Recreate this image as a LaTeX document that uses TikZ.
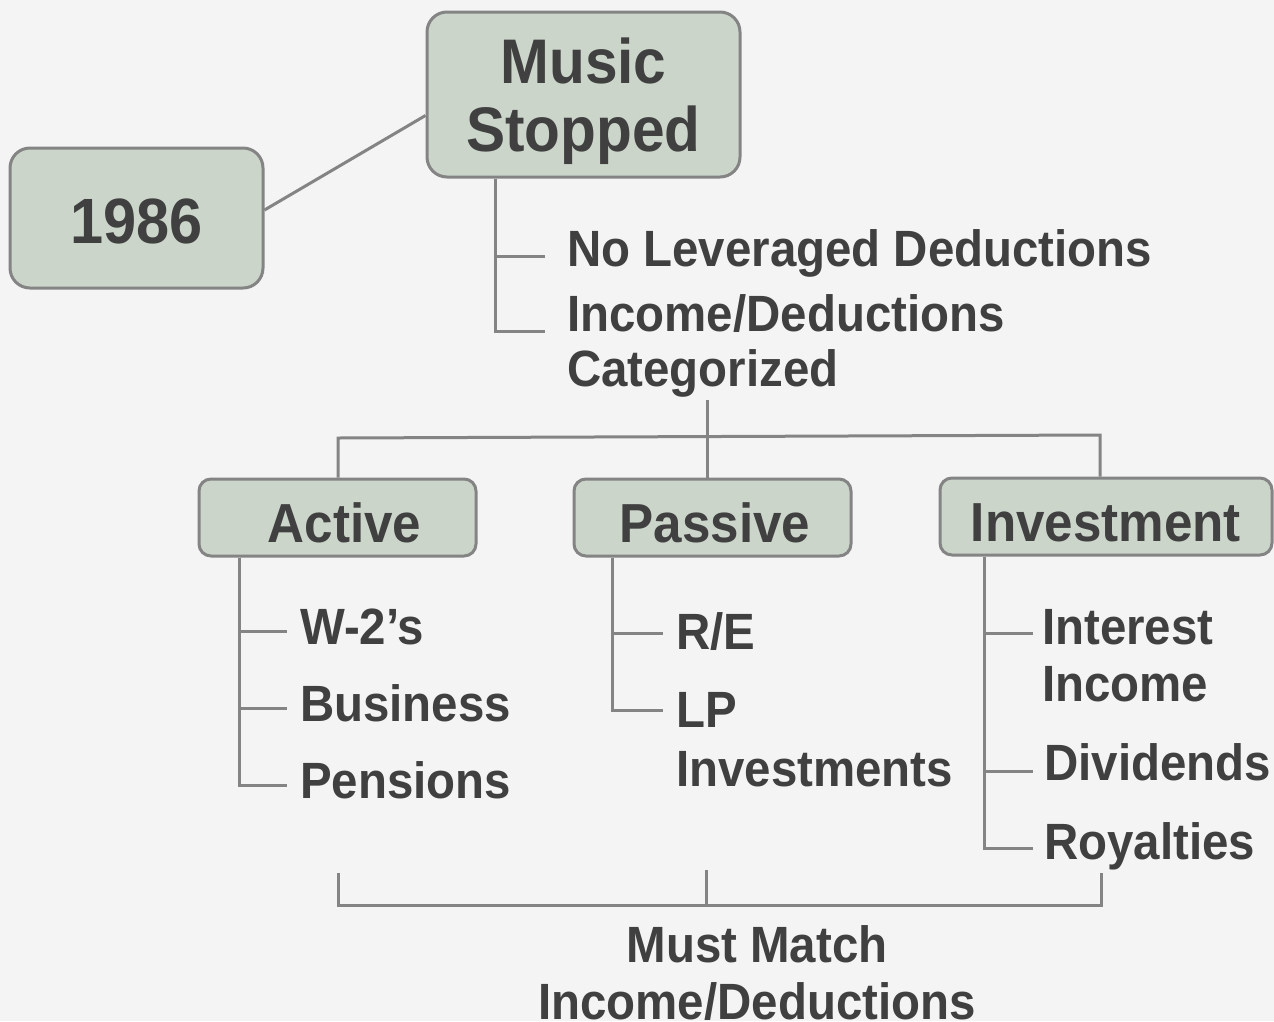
\documentclass[tikz,border=0pt]{standalone}
\usepackage{fontspec}
\newfontfamily\lab[FakeStretch=0.93]{Liberation Sans}
\definecolor{bg}{HTML}{F4F4F4}
\definecolor{boxfill}{HTML}{CBD5CA}
\definecolor{edge}{HTML}{848484}
\definecolor{txt}{HTML}{404040}
\tikzset{
  box/.style={draw=edge, fill=boxfill, line width=3pt, inner sep=0pt, text=txt, font=\lab\bfseries},
  bigbox/.style={box, rounded corners=20pt},
  smallbox/.style={box, rounded corners=12pt, minimum height=77pt, text height=49pt, text depth=0pt,
    font=\lab\bfseries\fontsize{55}{60}\selectfont},
  item/.style={anchor=base west, inner sep=0pt, text=txt, font=\lab\bfseries\fontsize{51}{56}\selectfont, align=left},
  conn/.style={draw=edge, line width=3pt},
}
\begin{document}
\begin{tikzpicture}[x=1pt,y=-1pt]
\fill[bg] (0,0) rectangle (1274,1021);
\useasboundingbox (0,0) rectangle (1274,1021);

% main boxes
\node[bigbox, minimum width=253pt, minimum height=140pt, text height=50pt, text depth=0pt, font=\lab\bfseries\fontsize{64}{68}\selectfont] (y1986) at (136.5,218) {1986};
\node[bigbox, minimum width=313pt, minimum height=165pt, align=center, text depth=0pt, font=\lab\bfseries\fontsize{63}{68}\selectfont] (music) at (583.5,94.5) {Music\\Stopped};

\draw[conn] ([yshift=8pt]y1986.east) -- ([yshift=-21pt]music.west);

% first list
\node[item] (nolev) at (567,266) {No Leveraged Deductions};
\node[item, font=\lab\bfseries\fontsize{51}{55}\selectfont] (incded) at (567,386) {Income/Deductions\\Categorized};
\coordinate (mroot) at ([xshift=70pt]music.south west);
\coordinate (mb1) at (545,256);
\coordinate (mb2) at (545,331);
\draw[conn] (mroot) |- (mb1);
\draw[conn] (mroot) |- (mb2);

% category boxes
\node[smallbox, minimum width=277pt] (active) at (337.5,517.5) {\hspace*{14pt}Active};
\node[smallbox, minimum width=277pt] (passive) at (712.5,517.5) {\hspace*{5pt}Passive};
\node[smallbox, minimum width=332pt] (invest) at (1106,516.5) {Investment};

% top distribution bar
\coordinate (catb) at (707,400);
\coordinate (barl) at (338,438);
\coordinate (barr) at (1100,435);
\draw[conn] (barl |- active.north) -- (barl) -- (barr) -- (barr |- invest.north);
\draw[conn] (catb) -- (catb |- passive.north);

% Active items
\node[item] (w2) at (300,644) {W-2’s};
\node[item] (bus) at (300,721) {Business};
\node[item] (pen) at (300,798) {Pensions};
\coordinate (aroot) at ([xshift=42pt]active.south west);
\coordinate (ab1) at (287,631);
\coordinate (ab2) at (287,708);
\coordinate (ab3) at (287,785);
\draw[conn] (aroot) |- (ab3);
\draw[conn] (aroot |- ab1) -- (ab1);
\draw[conn] (aroot |- ab2) -- (ab2);

% Passive items
\node[item] (re) at (676,649) {R/E};
\node[item, font=\lab\bfseries\fontsize{51}{59}\selectfont] (lp) at (676,786) {LP\\Investments};
\coordinate (proot) at ([xshift=40pt]passive.south west);
\coordinate (pb1) at (663,633);
\coordinate (pb2) at (663,710);
\draw[conn] (proot) |- (pb2);
\draw[conn] (proot |- pb1) -- (pb1);

% Investment items
\node[item, font=\lab\bfseries\fontsize{51}{57}\selectfont] (int) at (1042,701) {Interest\\Income};
\node[item] (div) at (1044,780) {Dividends};
\node[item] (roy) at (1044,859) {Royalties};
\coordinate (iroot) at ([xshift=46pt]invest.south west);
\coordinate (ib1) at (1033,633);
\coordinate (ib2) at (1033,771);
\coordinate (ib3) at (1033,848);
\draw[conn] (iroot) |- (ib3);
\draw[conn] (iroot |- ib1) -- (ib1);
\draw[conn] (iroot |- ib2) -- (ib2);

% bottom bracket
\coordinate (bl) at (338,873);
\coordinate (bm) at (706,870);
\coordinate (br) at (1101,873);
\coordinate (bbase) at (338,905);
\draw[conn] (bl) -- (bbase) -- (bbase -| br) -- (br);
\draw[conn] (bm) -- (bm |- bbase);

\node[item, anchor=base, align=center, font=\lab\bfseries\fontsize{51}{57}\selectfont] (must) at (757,1019) {Must Match\\Income/Deductions};
\end{tikzpicture}
\end{document}
